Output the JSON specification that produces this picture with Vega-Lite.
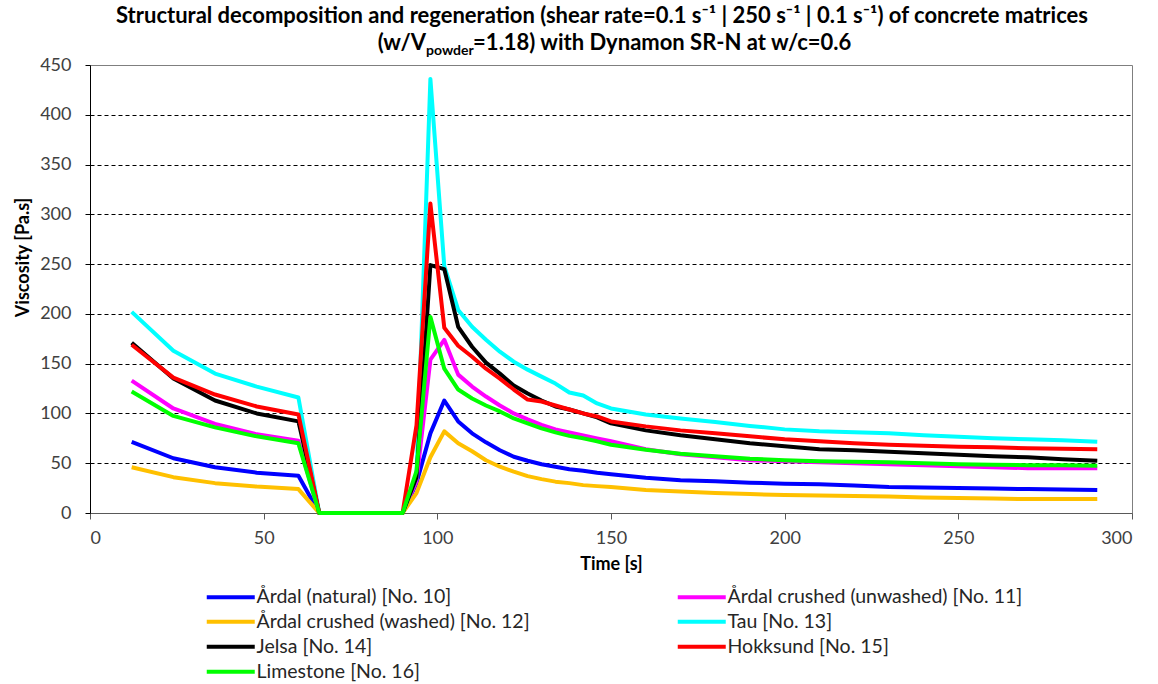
{
  "$schema": "https://vega.github.io/schema/vega-lite/v6.json",
  "autosize": {"type": "none"},
  "width": 1042,
  "height": 448,
  "padding": {"left": 90, "top": 65, "right": 26, "bottom": 171},
  "background": "white",
  "config": {
    "font": "Lato",
    "view": {"stroke": "#7f7f7f", "strokeWidth": 1},
    "axis": {
      "labelFont": "Lato",
      "labelFontSize": 18,
      "labelColor": "#404040",
      "titleFont": "Lato",
      "titleFontSize": 18,
      "titleFontWeight": "bold",
      "titleColor": "#000000",
      "domainColor": "#000000",
      "tickColor": "#000000",
      "tickSize": 5
    }
  },
  "title": {
    "text": "Structural decomposition and regeneration (shear rate=0.1 s⁻¹ | 250 s⁻¹ | 0.1 s⁻¹) of concrete matrices",
    "font": "Lato",
    "fontSize": 22,
    "fontWeight": "bold",
    "color": "#000000",
    "anchor": "middle",
    "frame": "group",
    "offset": 4,
    "dx": -9
  },
  "datasets": {
    "viscosity": [
      {"t": 12, "n10": 71.5, "n11": 133, "n12": 46, "n13": 202, "n14": 171, "n15": 169, "n16": 122},
      {"t": 24, "n10": 55, "n11": 105, "n12": 36, "n13": 163, "n14": 135, "n15": 136, "n16": 97.5},
      {"t": 36, "n10": 46, "n11": 89.5, "n12": 30, "n13": 140, "n14": 113, "n15": 119, "n16": 86},
      {"t": 48, "n10": 40.5, "n11": 79, "n12": 26.5, "n13": 127, "n14": 100, "n15": 107, "n16": 77},
      {"t": 60, "n10": 37.5, "n11": 72.5, "n12": 24, "n13": 116, "n14": 92, "n15": 99, "n16": 70},
      {"t": 66, "n10": 0, "n11": 0, "n12": 0, "n13": 0, "n14": 0, "n15": 0, "n16": 0},
      {"t": 90, "n10": 0, "n11": 0, "n12": 0, "n13": 0, "n14": 0, "n15": 0, "n16": 0},
      {"t": 94, "n10": 30, "n11": 32, "n12": 20, "n13": 36, "n14": 36, "n15": 88, "n16": 42},
      {"t": 98, "n10": 80, "n11": 154, "n12": 56, "n13": 436, "n14": 249, "n15": 311, "n16": 197},
      {"t": 102, "n10": 113, "n11": 174, "n12": 82, "n13": 248, "n14": 245, "n15": 186, "n16": 145},
      {"t": 106, "n10": 92, "n11": 139, "n12": 70, "n13": 204, "n14": 187, "n15": 168, "n16": 124},
      {"t": 110, "n10": 80, "n11": 127, "n12": 62, "n13": 187, "n14": 167, "n15": 157, "n16": 115},
      {"t": 114, "n10": 71, "n11": 117, "n12": 53, "n13": 174, "n14": 151, "n15": 145, "n16": 108},
      {"t": 118, "n10": 63, "n11": 108, "n12": 46.5, "n13": 162, "n14": 140, "n15": 135, "n16": 102},
      {"t": 122, "n10": 56.5, "n11": 100, "n12": 41.5, "n13": 152, "n14": 128, "n15": 124, "n16": 95},
      {"t": 126, "n10": 52.5, "n11": 94, "n12": 37, "n13": 144, "n14": 120, "n15": 114, "n16": 90},
      {"t": 130, "n10": 49, "n11": 88.5, "n12": 34, "n13": 137, "n14": 113, "n15": 112, "n16": 85},
      {"t": 134, "n10": 46.5, "n11": 84, "n12": 31.5, "n13": 130, "n14": 107, "n15": 108, "n16": 81},
      {"t": 138, "n10": 44, "n11": 81, "n12": 30, "n13": 121, "n14": 104, "n15": 104, "n16": 77.5},
      {"t": 142, "n10": 42.5, "n11": 78, "n12": 28, "n13": 118, "n14": 100, "n15": 100, "n16": 75},
      {"t": 146, "n10": 40.5, "n11": 75, "n12": 27, "n13": 110, "n14": 96, "n15": 97, "n16": 72},
      {"t": 150, "n10": 39, "n11": 72, "n12": 26, "n13": 105, "n14": 90, "n15": 92, "n16": 68.5},
      {"t": 160, "n10": 35.5, "n11": 64, "n12": 23, "n13": 99, "n14": 83, "n15": 87, "n16": 63.5},
      {"t": 170, "n10": 33, "n11": 59, "n12": 21.5, "n13": 95, "n14": 78, "n15": 83, "n16": 59.5},
      {"t": 180, "n10": 32, "n11": 56, "n12": 20, "n13": 91.5, "n14": 74, "n15": 80, "n16": 57},
      {"t": 190, "n10": 30.5, "n11": 53, "n12": 19, "n13": 87.5, "n14": 70, "n15": 77, "n16": 54.5},
      {"t": 200, "n10": 29.5, "n11": 52, "n12": 18, "n13": 84, "n14": 67, "n15": 74, "n16": 53},
      {"t": 210, "n10": 29, "n11": 51, "n12": 17.5, "n13": 82, "n14": 64, "n15": 72, "n16": 52},
      {"t": 220, "n10": 27.5, "n11": 50, "n12": 17, "n13": 81, "n14": 63, "n15": 70, "n16": 51.5},
      {"t": 230, "n10": 26, "n11": 49, "n12": 16.5, "n13": 80, "n14": 61.5, "n15": 68.5, "n16": 51},
      {"t": 240, "n10": 25.5, "n11": 48, "n12": 15.5, "n13": 78, "n14": 60, "n15": 67.5, "n16": 50},
      {"t": 250, "n10": 25, "n11": 47, "n12": 15, "n13": 76.5, "n14": 58.5, "n15": 66.5, "n16": 49},
      {"t": 260, "n10": 24.5, "n11": 46, "n12": 14.5, "n13": 75, "n14": 57, "n15": 66, "n16": 48.5},
      {"t": 270, "n10": 24, "n11": 45, "n12": 14, "n13": 74, "n14": 56, "n15": 65, "n16": 48},
      {"t": 280, "n10": 23.5, "n11": 45, "n12": 14, "n13": 73, "n14": 54, "n15": 64.5, "n16": 48},
      {"t": 290, "n10": 23, "n11": 45, "n12": 14, "n13": 71.5, "n14": 52.5, "n15": 64, "n16": 47.5}
    ],
    "names": [
      {"key": "n10", "name": "Årdal (natural) [No. 10]"},
      {"key": "n11", "name": "Årdal crushed (unwashed) [No. 11]"},
      {"key": "n12", "name": "Årdal crushed (washed) [No. 12]"},
      {"key": "n13", "name": "Tau [No. 13]"},
      {"key": "n14", "name": "Jelsa [No. 14]"},
      {"key": "n15", "name": "Hokksund [No. 15]"},
      {"key": "n16", "name": "Limestone [No. 16]"}
    ]
  },
  "layer": [
    {
      "data": {"name": "viscosity"},
      "transform": [
        {"fold": ["n10", "n11", "n12", "n13", "n14", "n15", "n16"], "as": ["key", "v"]},
        {"lookup": "key", "from": {"data": {"name": "names"}, "key": "key", "fields": ["name"]}}
      ],
      "mark": {"type": "line", "strokeWidth": 4, "strokeJoin": "round"},
      "encoding": {
        "x": {
          "field": "t",
          "type": "quantitative",
          "scale": {"domain": [0, 300], "nice": false, "zero": false},
          "axis": {
            "title": "Time [s]",
            "values": [0, 50, 100, 150, 200, 250, 300],
            "grid": false,
            "domainColor": "#595959",
            "tickColor": "#595959",
            "tickSize": 6,
            "labelPadding": 10,
            "titlePadding": 8
          }
        },
        "y": {
          "field": "v",
          "type": "quantitative",
          "scale": {"domain": [0, 450], "nice": false},
          "axis": {
            "title": "Viscosity [Pa.s]",
            "values": [0, 50, 100, 150, 200, 250, 300, 350, 400, 450],
            "grid": true,
            "gridColor": "#000000",
            "gridDash": [4, 3],
            "gridWidth": 1,
            "gridOpacity": {"condition": {"test": "datum.value == 0 || datum.value == 450", "value": 0}, "value": 1},
            "labelPadding": 14,
            "titleX": -58,
            "titleY": 192
          }
        },
        "color": {
          "field": "name",
          "type": "nominal",
          "scale": {
            "domain": [
              "Årdal (natural) [No. 10]",
              "Årdal crushed (unwashed) [No. 11]",
              "Årdal crushed (washed) [No. 12]",
              "Tau [No. 13]",
              "Jelsa [No. 14]",
              "Hokksund [No. 15]",
              "Limestone [No. 16]"
            ],
            "range": ["#0000ff", "#ff00ff", "#ffc000", "#00ffff", "#000000", "#ff0000", "#00ff00"]
          },
          "legend": {
            "title": null,
            "orient": "none",
            "legendX": 131,
            "legendY": 522,
            "direction": "horizontal",
            "columns": 2,
            "columnPadding": 139,
            "rowPadding": 4,
            "symbolType": "M-4,0H4",
            "symbolSize": 144,
            "symbolStrokeWidth": 4,
            "labelOffset": 16,
            "labelFont": "Lato",
            "labelFontSize": 19.5,
            "labelColor": "#262626",
            "labelLimit": 400
          }
        }
      }
    },
    {
      "data": {"values": [{}]},
      "mark": {"type": "text", "text": "(w/V", "align": "right", "baseline": "alphabetic", "font": "Lato", "fontSize": 22, "fontWeight": "bold", "color": "#000000"},
      "encoding": {
        "x": {"datum": 96.75, "type": "quantitative"},
        "y": {"datum": 465, "type": "quantitative"}
      }
    },
    {
      "data": {"values": [{}]},
      "mark": {"type": "text", "text": "powder", "align": "left", "baseline": "alphabetic", "font": "Lato", "fontSize": 14, "fontWeight": "bold", "color": "#000000"},
      "encoding": {
        "x": {"datum": 96.75, "type": "quantitative"},
        "y": {"datum": 460.5, "type": "quantitative"}
      }
    },
    {
      "data": {"values": [{}]},
      "mark": {"type": "text", "text": "=1.18) with Dynamon SR-N at w/c=0.6", "align": "left", "baseline": "alphabetic", "font": "Lato", "fontSize": 22, "fontWeight": "bold", "color": "#000000"},
      "encoding": {
        "x": {"datum": 110.3, "type": "quantitative"},
        "y": {"datum": 465, "type": "quantitative"}
      }
    }
  ]
}
